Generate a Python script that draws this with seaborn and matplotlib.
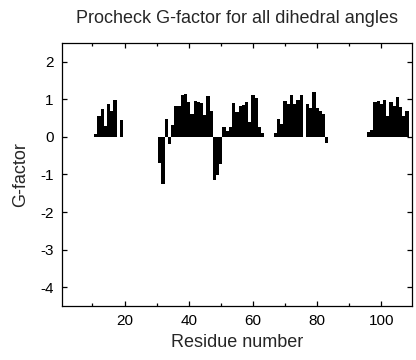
import numpy as np
import pandas as pd
import seaborn as sns
from matplotlib import pyplot as plt
from matplotlib.ticker import MultipleLocator

# G-factor per residue
res_a = list(range(11, 20))
gf_a = [0.08, 0.55, 0.73, 0.29, 0.86, 0.68, 0.97, 0.0, 0.45]

res_b = list(range(31, 64))
gf_b = [-0.70, -1.26, 0.47, -0.19, 0.31, 0.82, 0.82, 1.10, 1.15, 0.92,
        0.60, 0.96, 0.92, 0.90, 0.57, 1.09, 0.68, -1.14, -1.01, -0.72,
        0.25, 0.16, 0.27, 0.89, 0.67, 0.82, 0.85, 0.92, 0.40, 1.12,
        1.03, 0.25, 0.11]

res_c = list(range(67, 84))
gf_c = [0.11, 0.48, 0.35, 0.95, 0.86, 1.10, 0.87, 0.97, 1.10, 0.0,
        0.88, 0.77, 1.18, 0.78, 0.70, 0.62, -0.17]

res_d = list(range(96, 109))
gf_d = [0.13, 0.18, 0.92, 0.94, 0.88, 0.97, 0.55, 0.93, 0.82, 1.05,
        0.79, 0.55, 0.70]

x_ticks = [20, 40, 60, 80, 100]
y_ticks = [2, 1, 0, -1, -2, -3, -4]

df = pd.DataFrame({
    "residue": res_a + res_b + res_c + res_d,
    "gfactor": gf_a + gf_b + gf_c + gf_d,
})

sns.set_style("ticks")
plt.rcParams['font.family'] = ['Liberation Sans', 'DejaVu Sans']
plt.rcParams['axes.unicode_minus'] = False

fig = plt.figure(figsize=(4.16, 3.6), dpi=100)
ax = fig.add_axes([0.149, 0.15, 0.841, 0.731])

sns.barplot(data=df, x="residue", y="gfactor", native_scale=True, width=1,
            color="black", saturation=1, errorbar=None, linewidth=0, ax=ax)

ax.set_xlim(0.5, 109.5)
ax.set_ylim(-4.5, 2.5)
ax.set_xticks(x_ticks)
ax.set_yticks(y_ticks)
ax.xaxis.set_minor_locator(MultipleLocator(10))
ax.tick_params(which="both", direction="in", top=True, right=True,
               width=0.9, labelsize=11, colors="black")
ax.tick_params(which="major", length=3.5, pad=6)
ax.tick_params(which="minor", length=2)
for s in ax.spines.values():
    s.set_linewidth(0.9)
    s.set_color("black")

ax.set_title("Procheck G-factor for all dihedral angles", fontsize=13, pad=14)
ax.set_xlabel("Residue number", fontsize=13, labelpad=4)
ax.set_ylabel("G-factor", fontsize=13, labelpad=8)

fig.savefig("out.png", dpi=100)
